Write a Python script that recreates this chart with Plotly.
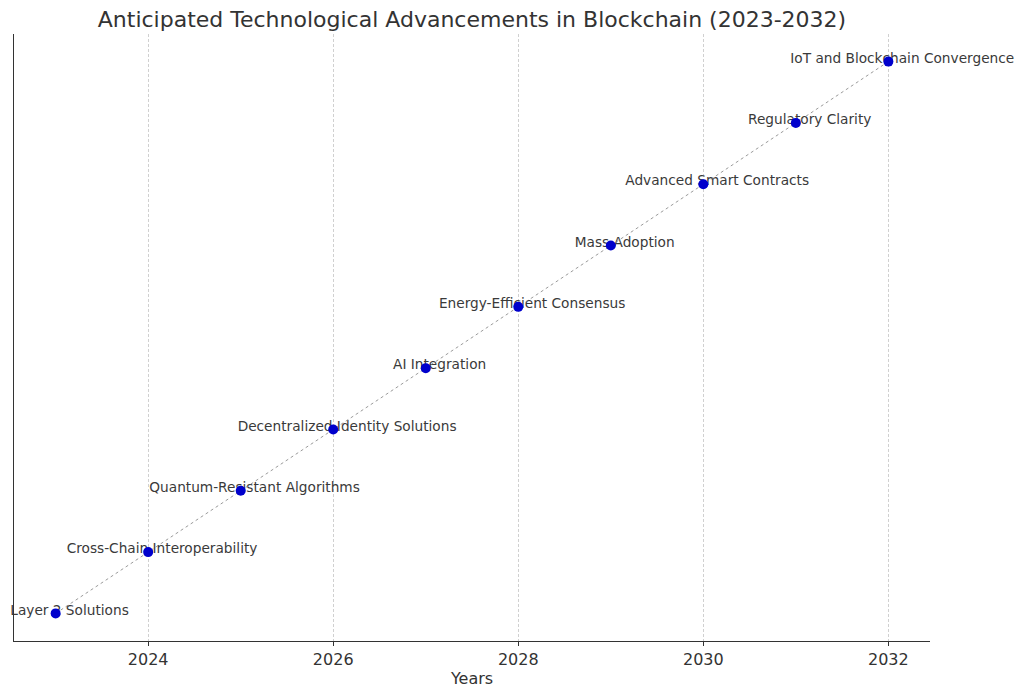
import plotly.graph_objects as go

years = [2023, 2024, 2025, 2026, 2027, 2028, 2029, 2030, 2031, 2032]
advancements = [
    "Layer 2 Solutions",
    "Cross-Chain Interoperability",
    "Quantum-Resistant Algorithms",
    "Decentralized Identity Solutions",
    "AI Integration",
    "Energy-Efficient Consensus",
    "Mass Adoption",
    "Advanced Smart Contracts",
    "Regulatory Clarity",
    "IoT and Blockchain Convergence",
]
levels = list(range(1, len(years) + 1))
tick_vals = [2024, 2026, 2028, 2030, 2032]

FONT = "DejaVu Sans"
LABEL_DX = 0.15   # label offset in years (text placement)
LABEL_DY = 0.035  # label offset in level units

fig = go.Figure()
# labels first so the markers sit on top of them
fig.add_trace(go.Scatter(
    x=[v + LABEL_DX for v in years], y=[v + LABEL_DY for v in levels],
    mode="text", text=advancements, textposition="middle center",
    textfont=dict(family=FONT, size=13.7, color="#3a3a3a"),
    cliponaxis=False, hoverinfo="skip", showlegend=False,
))
fig.add_trace(go.Scatter(
    x=years, y=levels, mode="lines+markers",
    line=dict(color="gray", width=0.8, dash="dot"),
    marker=dict(color="#0000cc", size=10),
    cliponaxis=False, hoverinfo="skip", showlegend=False,
))

fig.update_layout(
    width=1024, height=695,
    margin=dict(l=14, r=94, t=34, b=54, autoexpand=False),
    plot_bgcolor="white", paper_bgcolor="white",
    font=dict(family=FONT, color="#333333"),
    title=dict(text="Anticipated Technological Advancements in Blockchain (2023-2032)",
               x=472 / 1024, xanchor="center", y=1 - 19 / 695, yanchor="middle",
               font=dict(family=FONT, size=22, color="#333333")),
    xaxis=dict(
        range=[2022.55, 2032.45], tickvals=tick_vals, automargin=False,
        ticks="outside", ticklen=4, tickcolor="#333333",
        tickfont=dict(family=FONT, size=16, color="#333333"),
        showgrid=True, gridcolor="#d0d0d0", griddash="3px,2px", gridwidth=0.8,
        showline=True, linecolor="#333333", linewidth=1.2,
        zeroline=False,
        title=dict(text="Years", font=dict(family=FONT, size=16, color="#333333"), standoff=4),
    ),
    yaxis=dict(
        range=[0.55, 10.45], showticklabels=False, ticks="", automargin=False,
        showgrid=False, zeroline=False,
        showline=True, linecolor="#333333", linewidth=1.2,
    ),
)

fig.write_html("out.html", config={"displayModeBar": False},
               post_script="document.body.style.margin='0';")
